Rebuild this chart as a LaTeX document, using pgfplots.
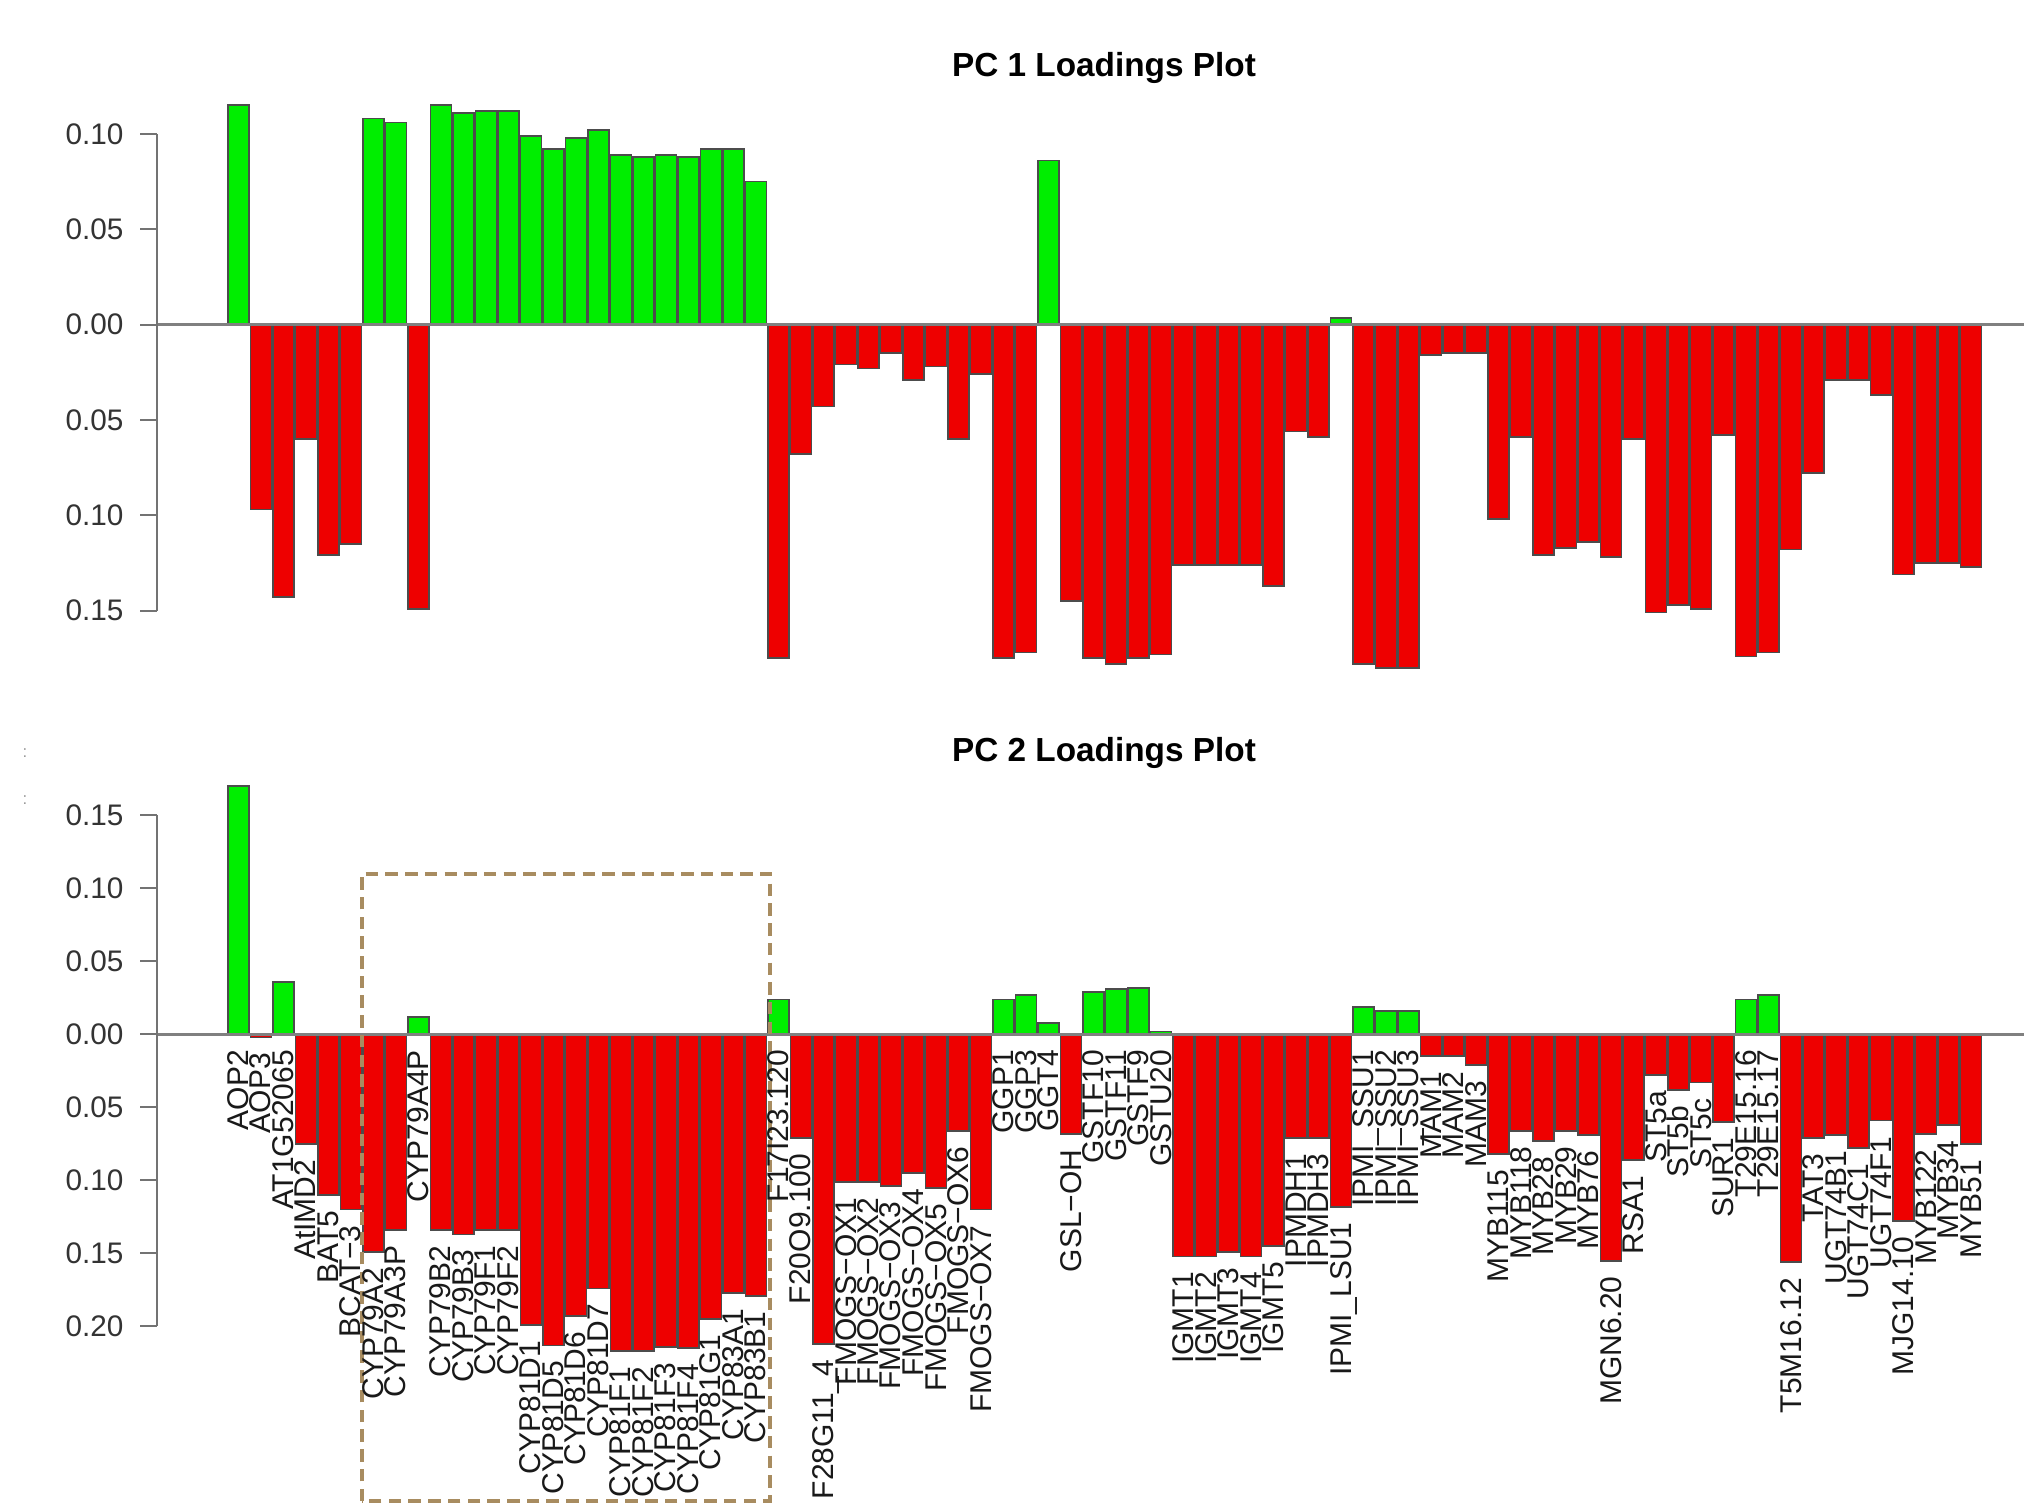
\documentclass[border=0pt]{standalone}
\usepackage{pgfplots}
\pgfplotsset{compat=1.18}
\usepackage{pgfplotstable}
\usepackage{fontspec}
\setmainfont{Liberation Sans}
\definecolor{barg}{RGB}{0,238,0}
\definecolor{barr}{RGB}{238,0,0}
\definecolor{boxc}{RGB}{168,140,96}

\pgfplotstableread{
n pcA pcB name
1 0.115 0.170 AOP2
2 -0.097 -0.002 AOP3
3 -0.143 0.036 AT1G52065
4 -0.060 -0.075 AtIMD2
5 -0.121 -0.110 BAT5
6 -0.115 -0.120 BCAT−3
7 0.108 -0.149 CYP79A2
8 0.106 -0.134 CYP79A3P
9 -0.149 0.012 CYP79A4P
10 0.115 -0.134 CYP79B2
11 0.111 -0.137 CYP79B3
12 0.112 -0.134 CYP79F1
13 0.112 -0.134 CYP79F2
14 0.099 -0.199 CYP81D1
15 0.092 -0.213 CYP81D5
16 0.098 -0.193 CYP81D6
17 0.102 -0.174 CYP81D7
18 0.089 -0.217 CYP81F1
19 0.088 -0.217 CYP81F2
20 0.089 -0.214 CYP81F3
21 0.088 -0.215 CYP81F4
22 0.092 -0.195 CYP81G1
23 0.092 -0.177 CYP83A1
24 0.075 -0.179 CYP83B1
25 -0.175 0.024 F17I23.120
26 -0.068 -0.071 F20O9.100
27 -0.043 -0.212 F28G11\_4
28 -0.021 -0.101 FMOGS−OX1
29 -0.023 -0.101 FMOGS−OX2
30 -0.015 -0.104 FMOGS−OX3
31 -0.029 -0.095 FMOGS−OX4
32 -0.022 -0.105 FMOGS−OX5
33 -0.060 -0.066 FMOGS−OX6
34 -0.026 -0.120 FMOGS−OX7
35 -0.175 0.024 GGP1
36 -0.172 0.027 GGP3
37 0.086 0.008 GGT4
38 -0.145 -0.068 GSL−OH
39 -0.175 0.029 GSTF10
40 -0.178 0.031 GSTF11
41 -0.175 0.032 GSTF9
42 -0.173 0.002 GSTU20
43 -0.126 -0.152 IGMT1
44 -0.126 -0.152 IGMT2
45 -0.126 -0.149 IGMT3
46 -0.126 -0.152 IGMT4
47 -0.137 -0.145 IGMT5
48 -0.056 -0.071 IPMDH1
49 -0.059 -0.071 IPMDH3
50 0.0035 -0.118 IPMI\_LSU1
51 -0.178 0.019 IPMI\_SSU1
52 -0.180 0.016 IPMI\_SSU2
53 -0.180 0.016 IPMI\_SSU3
54 -0.016 -0.015 MAM1
55 -0.015 -0.015 MAM2
56 -0.015 -0.021 MAM3
57 -0.102 -0.082 MYB115
58 -0.059 -0.066 MYB118
59 -0.121 -0.073 MYB28
60 -0.117 -0.066 MYB29
61 -0.114 -0.069 MYB76
62 -0.122 -0.155 MGN6.20
63 -0.060 -0.086 RSA1
64 -0.151 -0.028 ST5a
65 -0.147 -0.038 ST5b
66 -0.149 -0.033 ST5c
67 -0.058 -0.060 SUR1
68 -0.174 0.024 T29E15.16
69 -0.172 0.027 T29E15.17
70 -0.118 -0.156 T5M16.12
71 -0.078 -0.071 TAT3
72 -0.029 -0.069 UGT74B1
73 -0.029 -0.078 UGT74C1
74 -0.037 -0.059 UGT74F1
75 -0.131 -0.128 MJG14.10
76 -0.125 -0.068 MYB122
77 -0.125 -0.062 MYB34
78 -0.127 -0.075 MYB51
}\loadings

\pgfplotsset{
  loadaxis/.style={
    scale only axis, width=672.12pt, anchor=south west,
    xmin=-2.622, xmax=80.356,
    axis line style={draw=none},
    xtick=\empty, ytick pos=left, tick align=outside,
    major tick length=6.1pt,
    ytick style={black!55, line width=0.7pt},
    yticklabel style={font=\fontsize{10.7}{12}\selectfont, text=black!80, inner xsep=0pt, xshift=-5.8pt},
    clip=false,
  },
  greenbar/.style={ybar, bar width=0.93, bar shift=0pt, fill=barg, draw=black!70, line width=0.6pt},
  redbar/.style={ybar, bar width=0.93, bar shift=0pt, fill=barr, draw=black!70, line width=0.6pt},
}

\begin{document}
\begin{tikzpicture}
\useasboundingbox (0,0) rectangle (728.64pt,-541.08pt);

\begin{axis}[loadaxis, at={(56.52pt,-247.28pt)}, height=219.67pt,
  ymin=-0.19, ymax=0.13,
  ytick={-0.15,-0.10,-0.05,0,0.05,0.10},
  yticklabels={0.15,0.10,0.05,0.00,0.05,0.10}]
\addplot[greenbar, restrict y to domain=0:1] table[x=n, y=pcA] {\loadings};
\addplot[redbar, restrict y to domain=-1:0] table[x=n, y=pcA] {\loadings};
\draw[black!50, line width=1pt] (axis cs:-2.622,0) -- (axis cs:80.356,0);
\draw[black!55, line width=0.7pt] (axis cs:-2.622,-0.15) -- (axis cs:-2.622,0.10);
\end{axis}

\begin{axis}[loadaxis, at={(56.52pt,-493.27pt)}, height=220.75pt,
  ymin=-0.23, ymax=0.19,
  ytick={-0.20,-0.15,-0.10,-0.05,0,0.05,0.10,0.15},
  yticklabels={0.20,0.15,0.10,0.05,0.00,0.05,0.10,0.15}]
\addplot[greenbar, restrict y to domain=0:1] table[x=n, y=pcB] {\loadings};
\addplot[redbar, restrict y to domain=-1:0] table[x=n, y=pcB] {\loadings};
\draw[black!50, line width=1pt] (axis cs:-2.622,0) -- (axis cs:80.356,0);
\draw[black!55, line width=0.7pt] (axis cs:-2.622,-0.20) -- (axis cs:-2.622,0.15);
\addplot[draw=none, mark=none, nodes near coords, point meta=explicit symbolic,
  every node near coord/.append style={rotate=90, anchor=east,
    font=\fontsize{10.8}{13}\selectfont, text=black!90, inner xsep=5.5pt, inner ysep=0pt,
    text height=0.72em, text depth=0pt}]
  table[x=n, y expr={min(0,\thisrow{pcB})}, meta=name] {\loadings};
\draw[boxc, line width=1.3pt, dash pattern=on 4.5pt off 2.6pt]
  (axis cs:6.476,-0.3196) rectangle (axis cs:24.62,0.110);
\end{axis}

\node[anchor=base, font=\bfseries\fontsize{12}{14}\selectfont] at (397.44pt,-27.65pt) {PC 1 Loadings Plot};
\node[anchor=base, font=\bfseries\fontsize{12}{14}\selectfont] at (397.44pt,-274.18pt) {PC 2 Loadings Plot};
\node[font=\fontsize{6}{6}\selectfont, text=black!40] at (9pt,-271pt) {:};
\node[font=\fontsize{6}{6}\selectfont, text=black!40] at (9pt,-288pt) {:};
\end{tikzpicture}
\end{document}
